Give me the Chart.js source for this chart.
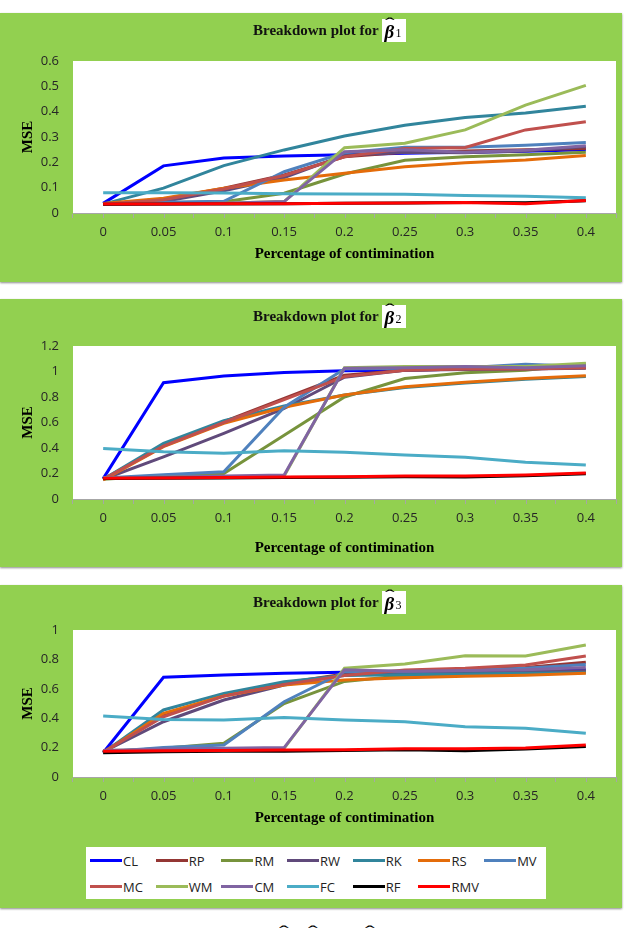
<!DOCTYPE html>
<html>
<head>
<meta charset="utf-8">
<script src="https://cdn.jsdelivr.net/npm/chart.js@4.4.0/dist/chart.umd.min.js"></script>
<style>
    body { margin: 0; width: 634px; height: 933px; overflow: hidden; background: #fff; position: relative; }
    .panel { position: absolute; left: 0; width: 622px; background: #92D050; box-shadow: 0 1px 2px #8c8c8c; }
    .panel .lienzo { position: absolute; left: 0; top: 0; width: 622px; }
    .titulo { position: absolute; left: 253px; top: 6px; height: 23px; display: flex; align-items: center;
              font: bold 15px "Liberation Serif", serif; color: #111; white-space: nowrap; }
    .eq { position: relative; display: inline-block; width: 24px; height: 23px; background: #fff; margin-left: 3px; }
    .eq .b { position: absolute; left: 3px; top: 2px; font: italic bold 19px "Liberation Serif", serif; color: #000; }
    .eq .h { position: absolute; left: 5px; top: -5px; font: 17px "Liberation Serif", serif; transform: scaleX(1.7); color: #000; }
    .eq .s { position: absolute; left: 14px; top: 7px; font: 12px "Liberation Serif", serif; color: #000; }
    .leyenda { position: absolute; left: 86px; top: 262px; width: 460px; height: 52px; background: #fff;
               display: grid; grid-template-columns: repeat(7, 65.7px); grid-template-rows: 27px 25px; padding-left: 4px; box-sizing: border-box; }
    .item { display: flex; align-items: center; font: 13px "Open Sans", sans-serif; color: #222; }
    .item i { display: inline-block; width: 32px; height: 3px; margin-right: 1px; }
    .pie { position: absolute; left: 276px; top: 927px; font: 17px "Liberation Serif", serif; white-space: nowrap; }
    .pie .eq { background: none; margin: 0 5px 0 0; }
    .pie .eq:nth-child(2) { margin-right: 33px; }
</style>
</head>
<body>

<div class="panel" id="panel1" style="top:13px;height:269px">
    <div class="lienzo" style="height:269px"><canvas id="chartBeta1"></canvas></div>
    <div class="titulo">Breakdown plot for<span class="eq"><span class="b">β</span><span class="h">ˆ</span><span class="s">1</span></span></div>
</div>
<div class="panel" id="panel2" style="top:299px;height:268px">
    <div class="lienzo" style="height:268px"><canvas id="chartBeta2"></canvas></div>
    <div class="titulo">Breakdown plot for<span class="eq"><span class="b">β</span><span class="h">ˆ</span><span class="s">2</span></span></div>
</div>
<div class="panel" id="panel3" style="top:585px;height:323px">
    <div class="lienzo" style="height:323px"><canvas id="chartBeta3"></canvas></div>
    <div class="titulo">Breakdown plot for<span class="eq"><span class="b">β</span><span class="h">ˆ</span><span class="s">3</span></span></div>
    <div class="leyenda" id="leyenda"></div>
</div>
<div class="pie"><span class="eq"><span class="b">β</span><span class="h">ˆ</span><span class="s">1</span></span><span class="eq"><span class="b">β</span><span class="h">ˆ</span><span class="s">2</span></span><span class="eq"><span class="b">β</span><span class="h">ˆ</span><span class="s">3</span></span></div>

<script>
// Datos del gráfico
const categorias = ['0', '0.05', '0.1', '0.15', '0.2', '0.25', '0.3', '0.35', '0.4'];
const nombres = ['CL', 'RP', 'RM', 'RW', 'RK', 'RS', 'MV', 'MC', 'WM', 'CM', 'FC', 'RF', 'RMV'];
const colores = ['#0000FF', '#943634', '#77933C', '#604A7B', '#31859C', '#E46C0A', '#4F81BD',
                 '#C0504D', '#9BBB59', '#8064A2', '#4BACC6', '#000000', '#FF0000'];

// MSE por estimador, mismo orden que "nombres"
const mseBeta1 = [
    [0.038, 0.186, 0.217, 0.225, 0.230, 0.236, 0.240, 0.244, 0.250], // CL
    [0.035, 0.055, 0.098, 0.150, 0.222, 0.240, 0.245, 0.250, 0.255], // RP
    [0.035, 0.040, 0.044, 0.078, 0.154, 0.208, 0.222, 0.230, 0.240], // RM
    [0.035, 0.045, 0.088, 0.140, 0.228, 0.240, 0.238, 0.245, 0.262], // RW
    [0.035, 0.098, 0.187, 0.249, 0.304, 0.346, 0.377, 0.395, 0.421], // RK
    [0.038, 0.058, 0.098, 0.130, 0.157, 0.183, 0.198, 0.209, 0.227], // RS
    [0.035, 0.042, 0.046, 0.163, 0.238, 0.260, 0.260, 0.267, 0.278], // MV
    [0.035, 0.052, 0.095, 0.148, 0.222, 0.255, 0.259, 0.328, 0.360], // MC
    [0.035, 0.036, 0.038, 0.045, 0.258, 0.275, 0.328, 0.426, 0.504], // WM
    [0.035, 0.036, 0.038, 0.045, 0.242, 0.250, 0.240, 0.248, 0.265], // CM
    [0.080, 0.080, 0.079, 0.076, 0.075, 0.074, 0.069, 0.066, 0.060], // FC
    [0.035, 0.036, 0.036, 0.037, 0.038, 0.039, 0.041, 0.040, 0.048], // RF
    [0.036, 0.036, 0.037, 0.037, 0.038, 0.039, 0.041, 0.037, 0.049]  // RMV
];
const mseBeta2 = [
    [0.160, 0.912, 0.965, 0.993, 1.006, 1.010, 1.020, 1.025, 1.035], // CL
    [0.155, 0.420, 0.607, 0.790, 0.970, 1.010, 1.020, 1.020, 1.030], // RP
    [0.155, 0.185, 0.200, 0.500, 0.800, 0.945, 0.990, 1.010, 1.060], // RM
    [0.155, 0.330, 0.515, 0.710, 0.955, 1.010, 1.015, 1.020, 1.025], // RW
    [0.155, 0.437, 0.615, 0.730, 0.815, 0.875, 0.910, 0.940, 0.960], // RK
    [0.150, 0.410, 0.593, 0.720, 0.815, 0.880, 0.915, 0.945, 0.967], // RS
    [0.165, 0.190, 0.214, 0.720, 1.020, 1.025, 1.030, 1.056, 1.040], // MV
    [0.155, 0.415, 0.600, 0.780, 0.960, 1.010, 1.020, 1.020, 1.030], // MC
    [0.165, 0.170, 0.175, 0.180, 1.030, 1.040, 1.040, 1.040, 1.065], // WM
    [0.165, 0.170, 0.180, 0.188, 1.025, 1.030, 1.040, 1.030, 1.045], // CM
    [0.397, 0.371, 0.358, 0.379, 0.366, 0.345, 0.327, 0.288, 0.267], // FC
    [0.160, 0.163, 0.165, 0.168, 0.170, 0.175, 0.173, 0.183, 0.198], // RF
    [0.162, 0.165, 0.168, 0.172, 0.175, 0.180, 0.180, 0.188, 0.203]  // RMV
];
const mseBeta3 = [
    [0.165, 0.678, 0.694, 0.705, 0.712, 0.715, 0.720, 0.722, 0.730], // CL
    [0.170, 0.420, 0.555, 0.640, 0.700, 0.720, 0.730, 0.745, 0.780], // RP
    [0.170, 0.195, 0.229, 0.500, 0.650, 0.690, 0.700, 0.710, 0.720], // RM
    [0.170, 0.376, 0.524, 0.626, 0.694, 0.710, 0.712, 0.718, 0.722], // RW
    [0.165, 0.456, 0.569, 0.648, 0.690, 0.695, 0.700, 0.705, 0.710], // RK
    [0.165, 0.433, 0.551, 0.626, 0.660, 0.675, 0.685, 0.692, 0.705], // RS
    [0.170, 0.200, 0.218, 0.512, 0.716, 0.720, 0.725, 0.740, 0.766], // MV
    [0.170, 0.410, 0.550, 0.630, 0.690, 0.728, 0.740, 0.762, 0.823], // MC
    [0.180, 0.185, 0.190, 0.195, 0.740, 0.769, 0.825, 0.823, 0.898], // WM
    [0.180, 0.190, 0.195, 0.200, 0.730, 0.720, 0.725, 0.730, 0.745], // CM
    [0.415, 0.392, 0.388, 0.404, 0.388, 0.376, 0.342, 0.331, 0.297], // FC
    [0.165, 0.172, 0.175, 0.176, 0.180, 0.185, 0.179, 0.190, 0.208], // RF
    [0.175, 0.178, 0.180, 0.183, 0.186, 0.192, 0.193, 0.198, 0.218]  // RMV
];

// Fondo blanco del área de trazado
const fondoBlanco = {
    id: 'fondoBlanco',
    beforeDraw(chart) {
        const { ctx, chartArea: a } = chart;
        ctx.save();
        ctx.fillStyle = '#fff';
        ctx.fillRect(a.left, a.top, a.right - a.left, a.bottom - a.top);
        ctx.restore();
    }
};

// Marcas del eje X también en el centro de cada categoría
const marcasCentro = {
    id: 'marcasCentro',
    afterDraw(chart) {
        const x = chart.scales.x;
        const ctx = chart.ctx;
        ctx.save();
        ctx.strokeStyle = '#a6a6a6';
        ctx.lineWidth = 1;
        ctx.beginPath();
        categorias.forEach((c, i) => {
            const px = Math.round(x.getPixelForValue(i)) + 0.5;
            ctx.moveTo(px, x.top);
            ctx.lineTo(px, x.top + 5);
        });
        ctx.stroke();
        ctx.restore();
    }
};

const fuenteSerif = { family: '"Liberation Serif", serif', weight: 'bold', size: 15 };
const fuenteTicks = { family: '"Open Sans", sans-serif', size: 13 };

/**
 * Crea un gráfico de líneas para un panel
 */
function crearPanel(canvasId, valores, yMax, yPaso, g) {
    const datasets = valores.map((serie, i) => ({
        label: nombres[i],
        data: serie,
        borderColor: colores[i],
        backgroundColor: colores[i],
        borderWidth: 3,
        pointRadius: 0,
        tension: 0,
        fill: false,
        order: nombres.length - i   // como Excel: la última serie queda encima
    }));

    return new Chart(document.getElementById(canvasId), {
        type: 'line',
        data: { labels: categorias, datasets: datasets },
        options: {
            responsive: true,
            maintainAspectRatio: false,
            animation: false,
            layout: { padding: { top: g.top, right: 6, left: 0, bottom: 0 } },
            plugins: { legend: { display: false }, tooltip: { enabled: false } },
            scales: {
                x: {
                    offset: true,
                    grid: { display: true, drawOnChartArea: false, offset: true, tickLength: 5, color: '#a6a6a6' },
                    border: { display: true, color: '#a6a6a6' },
                    ticks: { font: fuenteTicks, color: '#262626', padding: 6, maxRotation: 0, autoSkip: false },
                    title: { display: true, text: 'Percentage of contimination', font: fuenteSerif, color: '#000',
                             padding: { top: 0, bottom: g.tituloX } },
                    afterFit(scale) { scale.height = g.altoX; }
                },
                y: {
                    min: 0,
                    max: yMax,
                    grid: { display: false, drawTicks: false },
                    border: { display: false },
                    ticks: {
                        stepSize: yPaso, font: fuenteTicks, color: '#262626', padding: 14,
                        callback: v => String(parseFloat(v.toFixed(2)))
                    },
                    title: { display: true, text: 'MSE', font: fuenteSerif, color: '#000', padding: { top: 19, bottom: 0 } },
                    afterFit(scale) { scale.width = 73; }
                }
            }
        },
        plugins: [fondoBlanco, marcasCentro]
    });
}

crearPanel('chartBeta1', mseBeta1, 0.6, 0.1, { top: 48, altoX: 69, tituloX: 19 });
crearPanel('chartBeta2', mseBeta2, 1.2, 0.2, { top: 47, altoX: 68, tituloX: 10 });
const chart3 = crearPanel('chartBeta3', mseBeta3, 1, 0.2, { top: 45, altoX: 131, tituloX: 81 });

// Leyenda HTML construida desde las series del gráfico
const leyenda = document.getElementById('leyenda');
chart3.data.datasets.forEach(ds => {
    const item = document.createElement('div');
    item.className = 'item';
    item.innerHTML = '<i style="background:' + ds.borderColor + '"></i>' + ds.label;
    leyenda.appendChild(item);
});
</script>
</body>
</html>
